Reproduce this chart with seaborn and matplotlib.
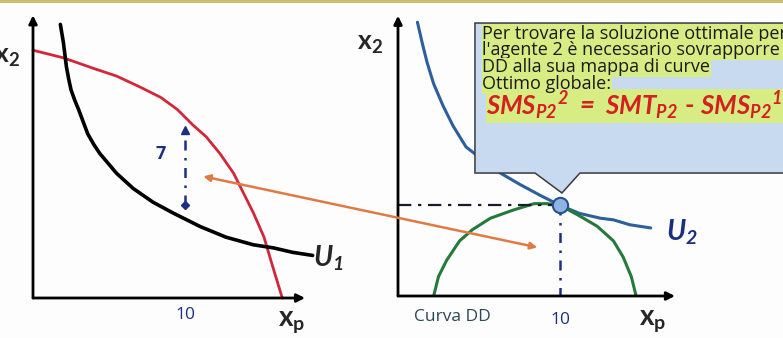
import numpy as np
import matplotlib
matplotlib.use("Agg")
import matplotlib.pyplot as plt
import seaborn as sns
from matplotlib.patches import Polygon, ConnectionPatch

# -----------------------------
# Data (economic units, tick "10" = 10)
# -----------------------------
# left panel: transformation frontier (red) and U1 (black)
red_x = [0.0, 2.0, 4.0, 5.5, 7.0, 8.4, 9.5, 10.5, 11.4, 12.3, 13.2, 13.8, 14.5, 15.2, 15.7, 16.4]
red_y = [16.3, 15.8, 15.1, 14.6, 13.9, 13.2, 12.4, 11.4, 10.6, 9.5, 8.2, 7.0, 5.6, 4.0, 2.3, 0.0]
u1_x = [1.8, 1.9, 2.0, 2.1, 2.2, 2.35, 2.5, 2.75, 3.0, 3.3, 3.6, 4.0, 4.4, 5.5, 6.6, 7.9, 9.2, 11.0, 12.7, 14.5, 15.8, 17.1, 18.4]
u1_y = [18.0, 17.4, 16.8, 16.0, 15.2, 14.4, 13.7, 13.0, 12.4, 11.6, 10.8, 10.1, 9.5, 8.2, 7.2, 6.3, 5.6, 4.7, 4.0, 3.5, 3.3, 3.0, 2.8]
gap_x = 10.0
gap_y = [6.1, 11.05]
gap_label = "7"

# right panel: U2 (blue) and curve DD (green)
u2_x = [1.2, 1.5, 1.8, 2.2, 2.8, 3.4, 4.2, 5.1, 6.3, 7.5, 8.8, 10.0, 11.2, 12.5, 13.3, 14.3, 15.6]
u2_y = [16.9, 15.6, 14.4, 13.1, 11.7, 10.5, 9.2, 8.5, 7.6, 6.9, 6.2, 5.6, 5.1, 4.8, 4.7, 4.4, 4.2]
dd_x = [2.2, 2.5, 3.0, 3.8, 4.6, 5.7, 7.1, 8.4, 9.2, 10.0, 11.2, 12.3, 13.3, 13.9, 14.4, 14.7]
dd_y = [0.0, 1.2, 2.2, 3.4, 4.1, 4.8, 5.3, 5.7, 5.7, 5.6, 4.95, 4.3, 3.4, 2.4, 1.2, 0.0]
opt_x, opt_y = 10.0, 5.6

xp_tick = 10
callout_lines = ["Per trovare la soluzione ottimale per",
                 "l'agente 2 è necessario sovrapporre la curva",
                 "DD alla sua mappa di curve",
                 "Ottimo globale:"]
formula = r"$\mathbf{SMS_{P2}{}^{2}\ =\ SMT_{P2}\ \text{-}\ SMS_{P2}{}^{1}}$"

# -----------------------------
# Style
# -----------------------------
sns.set_style("white")
plt.rcParams['font.family'] = ['Open Sans', 'DejaVu Sans']
plt.rcParams['mathtext.fontset'] = 'custom'
plt.rcParams['mathtext.rm'] = 'Lato:bold'
plt.rcParams['mathtext.it'] = 'Lato:italic:bold'
plt.rcParams['mathtext.bf'] = 'Lato:italic:bold'

W, H = 783, 338
fig = plt.figure(figsize=(W / 100, H / 100), dpi=100)
fig.patch.set_facecolor("#fdfdfd")

# left axes: origin at px (33, 298), 15.2 px per unit
ax1 = fig.add_axes([33 / W, 40 / H, 300 / W, 293 / H])
ax1.set_xlim(0, 300 / 15.2)
ax1.set_ylim(0, 293 / 15.2)
# right axes: origin at px (398, 296), 16.2 px per unit
ax2 = fig.add_axes([398 / W, 42 / H, 385 / W, 291 / H])
ax2.set_xlim(0, 385 / 16.2)
ax2.set_ylim(0, 291 / 16.2)

for ax, xend, yend in [(ax1, 17.9, 18.6), (ax2, 17.1, 17.3)]:
    ax.set_axis_off()
    ax.set_facecolor("none")
    ax.annotate("", xy=(xend, 0), xytext=(0, 0),
                arrowprops=dict(arrowstyle="-|>", color="black", lw=2, mutation_scale=12,
                                shrinkA=0, shrinkB=0), annotation_clip=False)
    ax.annotate("", xy=(0, yend), xytext=(0, 0),
                arrowprops=dict(arrowstyle="-|>", color="black", lw=2, mutation_scale=12,
                                shrinkA=0, shrinkB=0), annotation_clip=False)

# -----------------------------
# Left panel
# -----------------------------
sns.lineplot(x=red_x, y=red_y, sort=False, estimator=None, color="#d0283a", lw=2, ax=ax1)
sns.lineplot(x=u1_x, y=u1_y, sort=False, estimator=None, color="black", lw=2.6, ax=ax1)
for l in ax1.lines:
    l.set_clip_on(False)
    l.set_solid_joinstyle("round")

ax1.plot([gap_x, gap_x], gap_y, color="#1c2f80", lw=1.8, ls=(0, (4, 3, 1, 3)))
ax1.plot([gap_x], [gap_y[1]], marker="^", color="#1c2f80", ms=6)
ax1.plot([gap_x], [gap_y[0]], marker="D", color="#1c2f80", ms=4.5)
ax1.text(8.4, 9.5, gap_label, color="#1c2f80", fontsize=13, fontweight="bold", ha="center", va="center")

ax1.text(-1.7, 15.9, r"$\mathrm{x_2}$", fontsize=19, ha="center", va="center")
ax1.text(xp_tick, -1.15, str(xp_tick), color="#1c2f80", fontsize=12.5, ha="center", va="center")
ax1.text(17.0, -1.5, r"$\mathrm{x_p}$", fontsize=20, ha="center", va="center")
ax1.text(19.4, 2.6, r"$\mathbf{U_1}$", fontsize=20, ha="center", va="center")

# -----------------------------
# Right panel
# -----------------------------
sns.lineplot(x=u2_x, y=u2_y, sort=False, estimator=None, color="#2d5f9c", lw=2.2, ax=ax2)
sns.lineplot(x=dd_x, y=dd_y, sort=False, estimator=None, color="#237a3a", lw=2.2, ax=ax2)
for l in ax2.lines:
    l.set_solid_joinstyle("round")

ax2.plot([0, opt_x], [opt_y, opt_y], color="#1a1a2a", lw=1.6, ls=(0, (6, 3, 1.5, 3)))
ax2.plot([opt_x, opt_x], [opt_y, 0], color="#1c2f80", lw=1.8, ls=(0, (4, 3, 1, 3)))
ax2.plot([opt_x], [opt_y], marker="o", ms=11, mfc="#8fb4e2", mec="#2a4f8f", mew=1.5, zorder=4)

ax2.text(-1.75, 15.6, r"$\mathrm{x_2}$", fontsize=19, ha="center", va="center")
ax2.text(3.35, -1.3, "Curva DD", color="#2a4858", fontsize=12.5, ha="center", va="center")
ax2.text(xp_tick, -1.5, str(xp_tick), color="#1c2f80", fontsize=12.5, ha="center", va="center")
ax2.text(15.7, -1.5, r"$\mathrm{x_p}$", fontsize=20, ha="center", va="center")
ax2.text(17.55, 3.9, r"$\mathbf{U_2}$", color="#1c2f80", fontsize=20, ha="center", va="center")

# callout box with pointer to the optimum
box = Polygon([(4.75, 16.85), (24.5, 16.85), (24.5, 7.59), (11.23, 7.59), (10.12, 6.36),
               (8.46, 7.59), (4.75, 7.59)], closed=True, facecolor="#c8daf0",
              edgecolor="#3a3a3a", lw=1.1, zorder=5, clip_on=False)
ax2.add_patch(box)

# highlight behind the formula (drawn first so the text lines stay on top)
ax2.text(5.45, 11.75, formula, fontsize=18.5, color="none", ha="left", va="center", zorder=5.5,
         bbox=dict(facecolor="#d7ec82", edgecolor="none", pad=0.3))
for i, line in enumerate(callout_lines):
    ax2.text(5.2, 16.2 - i * 1.04, line, fontsize=13, color="#1a1a1a", ha="left", va="center",
             zorder=6, clip_on=False,
             bbox=dict(facecolor="#d7ec82", edgecolor="none", pad=0.4))
ax2.text(5.45, 11.75, formula, fontsize=18.5, color="#d42020", ha="left", va="center", zorder=6.5)

# orange arrow linking the two panels
con = ConnectionPatch(xyA=(11.2, 8.0), coordsA=ax1.transData,
                      xyB=(8.6, 3.0), coordsB=ax2.transData,
                      arrowstyle="<|-|>", color="#e07a45", lw=1.8, mutation_scale=10, zorder=3)
fig.add_artist(con)

# thin band along the top edge of the scan
fig.add_artist(plt.Rectangle((0, 1 - 3 / H), 1, 3 / H, transform=fig.transFigure,
                             facecolor="#c8c070", edgecolor="none"))

fig.savefig("out.png", dpi=100)
